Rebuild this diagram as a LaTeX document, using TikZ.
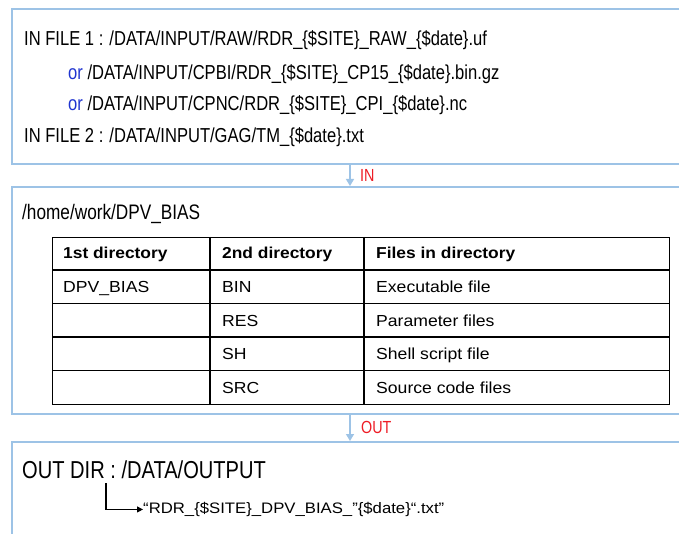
\documentclass[tikz,border=0pt]{standalone}
\usepackage{fontspec}
\setmainfont{Liberation Sans}
\newfontfamily\tabfont[FakeStretch=1.1]{Liberation Sans}
\newfontfamily\narrowfont[FakeStretch=0.82]{Liberation Sans}
\usetikzlibrary{arrows.meta}
\definecolor{boxblue}{HTML}{9DC3E6}
\definecolor{orblue}{HTML}{2035D0}
\definecolor{lblred}{HTML}{EE1C25}
\begin{document}
\begin{tikzpicture}[x=1pt,y=-1pt,
  panel/.style={draw=boxblue,line width=1.6pt,anchor=north west,inner sep=0pt,minimum width=720pt},
  txt/.style={anchor=base west,inner sep=0pt,font=\narrowfont\fontsize{20.2}{23}\selectfont},
  hometxt/.style={anchor=base west,inner sep=0pt,font=\narrowfont\fontsize{21}{24}\selectfont},
  outtxt/.style={anchor=base west,inner sep=0pt,font=\narrowfont\fontsize{24.5}{28}\selectfont},
  head/.style={anchor=base west,inner sep=0pt,font=\tabfont\bfseries\fontsize{15.8}{18}\selectfont},
  cell/.style={anchor=base west,inner sep=0pt,font=\tabfont\fontsize{16}{18}\selectfont},
  fname/.style={anchor=base west,inner sep=0pt,font=\tabfont\fontsize{15.2}{18}\selectfont},
  lbl/.style={anchor=west,inner sep=0pt,text=lblred,font=\narrowfont\fontsize{17.5}{20}\selectfont},
  flow/.style={draw=boxblue,line width=1.4pt,-{Triangle[width=8pt,length=7pt]}},
  tline/.style={line width=1.2pt,draw=black},
  elbow/.style={draw=black,line width=1.2pt,-{Triangle[width=6pt,length=6pt]}}
]
\clip (0,0) rectangle (679,534);
\fill[white] (0,0) rectangle (679,534);

% panels
\node[panel,minimum height=155pt] (inbox) at (11,8) {};
\node[panel,minimum height=227pt] (procbox) at (11,186) {};
\node[panel,minimum height=120pt] (outbox) at (11,441) {};

% input text
\node[txt] (in1) at (24,46) {IN FILE 1 : /DATA/INPUT/RAW/RDR\_\{\$SITE\}\_RAW\_\{\$date\}.uf};
\node[txt] (in2) at (68,80) {{\color{orblue}or} /DATA/INPUT/CPBI/RDR\_\{\$SITE\}\_CP15\_\{\$date\}.bin.gz};
\node[txt] (in3) at (68,111) {{\color{orblue}or} /DATA/INPUT/CPNC/RDR\_\{\$SITE\}\_CPI\_\{\$date\}.nc};
\node[txt] (in4) at (24,143) {IN FILE 2 : /DATA/INPUT/GAG/TM\_\{\$date\}.txt};

% connectors between panels
\coordinate (ax) at (350,0);
\draw[flow] (inbox.south -| ax) -- (procbox.north -| ax);
\draw[flow] (procbox.south -| ax) -- (outbox.north -| ax);
\node[lbl] (inlbl) at (360,175) {IN};
\node[lbl] (outlbl) at (361,427) {OUT};

% process panel
\node[hometxt] (home) at (22,219.5) {/home/work/DPV\_BIAS};

\node[draw,line width=1.2pt,anchor=north west,minimum width=617pt,minimum height=167pt,inner sep=0pt] (tbl) at (52,237) {};
\foreach \yy in {270,303.5,337,370.5} \draw[tline] (tbl.west |- 0,\yy) -- (tbl.east |- 0,\yy);
\foreach \xx in {210,364} \draw[tline] (tbl.north -| \xx,0) -- (tbl.south -| \xx,0);

\node[head] (h1) at (63,259) {1st directory};
\node[head] (h2) at (222,259) {2nd directory};
\node[head] (h3) at (376,259) {Files in directory};

\node[cell] (c11) at (63,292.5) {DPV\_BIAS};
\node[cell] (c12) at (222,292.5) {BIN};
\node[cell] (c13) at (376,292.5) {Executable file};
\node[cell] (c22) at (222,326) {RES};
\node[cell] (c23) at (376,326) {Parameter files};
\node[cell] (c32) at (222,359.5) {SH};
\node[cell] (c33) at (376,359.5) {Shell script file};
\node[cell] (c42) at (222,393) {SRC};
\node[cell] (c43) at (376,393) {Source code files};

% output panel
\node[outtxt] (outdir) at (22,478.5) {OUT DIR : /DATA/OUTPUT};
\node[fname] (fn) at (143,513.5) {“RDR\_\{\$SITE\}\_DPV\_BIAS\_”\{\$date\}“.txt”};
\coordinate (ec) at (106,483);
\draw[elbow] (ec) |- (fn.west);
\end{tikzpicture}
\end{document}
